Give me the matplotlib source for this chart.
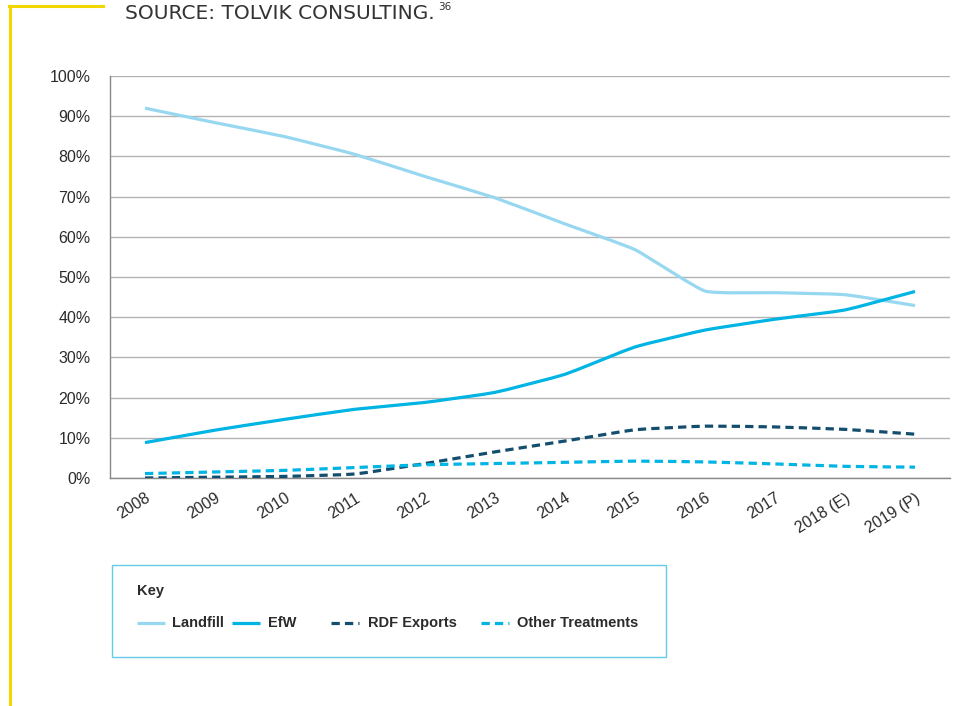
import numpy as np
import matplotlib
matplotlib.use("Agg")
import matplotlib.pyplot as plt
from matplotlib.path import Path
from matplotlib.patches import PathPatch, Rectangle
from matplotlib.lines import Line2D
from matplotlib.ticker import FuncFormatter, MultipleLocator

# ---- data (share of residual waste, %) ----
years = ["2008", "2009", "2010", "2011", "2012", "2013", "2014",
         "2015", "2016", "2017", "2018 (E)", "2019 (P)"]
landfill = [92.0, 88.4, 84.9, 80.5, 75.0, 69.7, 63.2, 56.8, 46.5, 46.1, 45.6, 42.9]
efw = [8.8, 11.9, 14.6, 17.1, 18.8, 21.3, 25.8, 32.6, 36.8, 39.5, 41.8, 46.4]
rdf_exports = [0.0, 0.2, 0.4, 1.0, 3.6, 6.5, 9.2, 12.0, 12.9, 12.7, 12.1, 10.9]
other_treatments = [1.1, 1.5, 1.9, 2.6, 3.3, 3.6, 3.9, 4.2, 4.0, 3.5, 2.9, 2.7]

series = [
    ("Landfill", landfill, "#97d8f0", "solid"),
    ("EfW", efw, "#00b4e4", "solid"),
    ("RDF Exports", rdf_exports, "#144e6e", "dashed"),
    ("Other Treatments", other_treatments, "#00b4e4", "dashed"),
]

plt.rcParams["font.family"] = ["Liberation Sans", "DejaVu Sans"]

LW = 2.3
DASH = (0, (2.6, 1.6))
TEXT = "#2b2b2b"
GRID = "#b3b3b3"


def smooth_path(xs, ys, tension=0.4):
    """Cubic Bezier path through the points (Catmull-Rom style tangents)."""
    pts = np.column_stack([xs, ys]).astype(float)
    n = len(pts)
    verts = [pts[0]]
    codes = [Path.MOVETO]
    for i in range(n - 1):
        p0 = pts[i - 1] if i > 0 else pts[i]
        p1 = pts[i]
        p2 = pts[i + 1]
        p3 = pts[i + 2] if i + 2 < n else pts[i + 1]
        c1 = p1 + tension * (p2 - p0) / 6.0
        c2 = p2 - tension * (p3 - p1) / 6.0
        verts += [c1, c2, p2]
        codes += [Path.CURVE4] * 3
    return Path(verts, codes)


fig = plt.figure(figsize=(9.6, 7.06), dpi=100)
ax = fig.add_axes([110 / 960, 1 - 478 / 706, 840 / 960, 402 / 706])

x = np.arange(len(years))
for name, vals, color, style in series:
    patch = PathPatch(smooth_path(x, vals), facecolor="none", edgecolor=color,
                      linewidth=LW, linestyle=DASH if style == "dashed" else "solid",
                      capstyle="butt", joinstyle="round", zorder=3)
    ax.add_patch(patch)

ax.set_xlim(-0.5, len(years) - 0.5)
ax.set_ylim(0, 100)
ax.yaxis.set_major_locator(MultipleLocator(10))
ax.yaxis.set_major_formatter(FuncFormatter(lambda v, _: f"{v:.0f}%"))
ax.set_xticks(x)
ax.set_xticklabels(years, rotation=32, ha="right", rotation_mode="anchor")

ax.grid(axis="y", color=GRID, linewidth=1.0)
ax.set_axisbelow(True)
for side in ("top", "right"):
    ax.spines[side].set_visible(False)
ax.spines["left"].set_color("#888888")
ax.spines["bottom"].set_color("#888888")
ax.spines["left"].set_linewidth(1.0)
ax.spines["bottom"].set_linewidth(1.0)
ax.tick_params(axis="both", length=0, labelsize=11.5, colors=TEXT)
ax.tick_params(axis="y", pad=14)
ax.tick_params(axis="x", pad=9)

# ---- key box ----
fig.add_artist(Rectangle((112 / 960, 1 - 657 / 706), 554 / 960, 92 / 706,
                         transform=fig.transFigure, facecolor="none",
                         edgecolor="#62cbe9", linewidth=1.0))
fig.text(137 / 960, 1 - 591 / 706, "Key", fontsize=10.5, fontweight="bold",
         color=TEXT, va="center")
key_y = 1 - 623 / 706
key_pos = [(137, 172), (232, 268), (331, 368), (481, 517)]
for (name, vals, color, style), (lx, tx) in zip(series, key_pos):
    fig.add_artist(Line2D([lx / 960, (lx + 28) / 960], [key_y, key_y],
                          transform=fig.transFigure, color=color, linewidth=LW,
                          linestyle=DASH if style == "dashed" else "solid",
                          solid_capstyle="butt", dash_capstyle="butt"))
    fig.text(tx / 960, key_y, name, fontsize=10.5, fontweight="bold",
             color=TEXT, va="center")

# ---- header rule and source line ----
yellow = "#f2d600"
fig.add_artist(Line2D([10 / 960, 10 / 960], [0, 1 - 6 / 706],
                      transform=fig.transFigure, color=yellow, linewidth=2.2))
fig.add_artist(Line2D([9.2 / 960, 103 / 960], [1 - 6 / 706, 1 - 6 / 706],
                      transform=fig.transFigure, color=yellow, linewidth=2.2))
fig.text(125 / 960, 1 - 19 / 706, "SOURCE: TOLVIK CONSULTING.",
         family=["DejaVu Sans"], fontsize=14.5,
         color="#333333", va="baseline", ha="left")
fig.text(438 / 960, 1 - 10 / 706, "36",
         family=["DejaVu Sans"], fontsize=7.5,
         color="#333333", va="baseline", ha="left")

fig.savefig("out.png", dpi=100)
